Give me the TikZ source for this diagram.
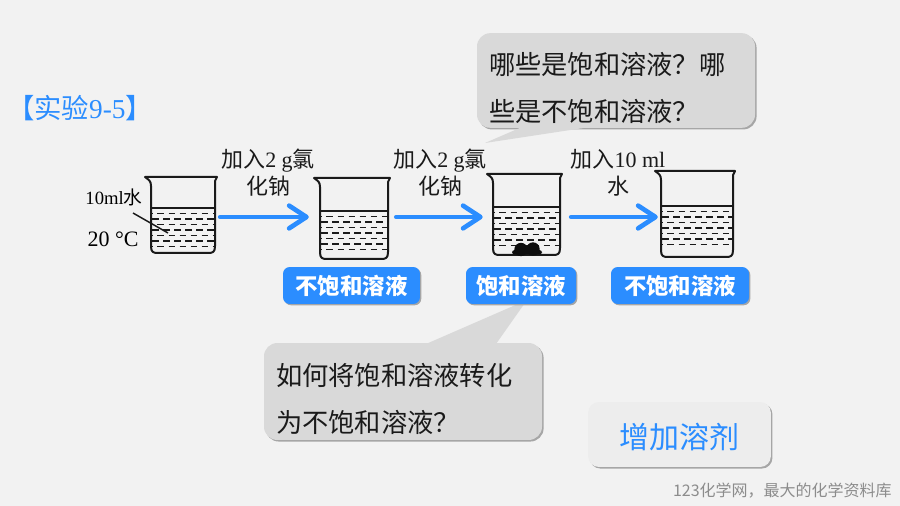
\documentclass[tikz,border=0pt]{standalone}
\usepackage{fontspec}
\setmainfont{Liberation Serif}
\newfontfamily\cjk{Noto Sans CJK SC}
\usepackage{tikz}
\usetikzlibrary{arrows.meta,positioning,calc,fit,shadows}
\definecolor{bgcol}{HTML}{F2F2F2}
\definecolor{bluecol}{HTML}{2B8DFF}
\definecolor{bubblecol}{HTML}{D9D9D9}
\definecolor{answercol}{HTML}{EDEDED}
\definecolor{inkcol}{HTML}{1A1A1A}
\newcommand{\beaker}[6]{
    \coordinate (#1nw) at (#2,#3);
    \coordinate (#1se) at (#4,#5);
    \node[fit=(#1nw)(#1se), inner sep=0pt] (#1) {};
    \draw[glass] (#2-6,#3) -- (#4+2,#3) -- (#4,#3+4) -- (#4,#5-7) .. controls (#4,#5-1) and (#4-2,#5) .. (#4-7,#5)
        -- (#2+7,#5) .. controls (#2+2,#5) and (#2,#5-1) .. (#2,#5-7) -- (#2,#3+9) .. controls (#2,#3+4) and (#2-2,#3+3) .. (#2-6,#3) -- cycle;
    \draw[line width=1pt, inkcol] (#2,#6) -- (#4,#6);
    \begin{scope}
        \clip (#2+1,#6) rectangle (#4-1,#5-1);
        \foreach \row [count=\i] in {1,...,7} {
            \pgfmathsetmacro{\phase}{mod(\i,2)*4.2}
            \draw[line width=1.2pt, inkcol, dash pattern=on 5pt off 3.3pt, dash phase=\phase pt] (#2+1,#6+\row*5.5) -- (#4-1,#6+\row*5.5);
        }
    \end{scope}
}
\begin{document}
\begin{tikzpicture}[
    x=0.75pt, y=-0.75pt,
    glass/.style = {line width=1.5pt, draw=inkcol, line join=round},
    bubble/.style = {rectangle, fill=bubblecol, rounded corners=10pt, minimum width=208.5pt, text width=190.5pt, inner xsep=9pt, inner ysep=0pt, align=left, text=inkcol, font=\cjk\fontsize{19.7}{35.2}\selectfont, execute at begin node={\rule{0pt}{27.5pt}}, drop shadow={shadow xshift=1.2pt, shadow yshift=-1.2pt, fill=black!35, opacity=1}},
    tag/.style = {rectangle, fill=bluecol, rounded corners=5pt, minimum height=27.7pt, text=white, inner sep=0pt, font=\cjk\bfseries\fontsize{16.8}{20}\selectfont, drop shadow={shadow xshift=1pt, shadow yshift=-1pt, fill=black!35, opacity=1}},
    step label/.style = {align=center, text=inkcol, inner sep=0pt, font=\fontsize{16.5}{20.2}\selectfont},
    arrow/.style = {-{Straight Barb[length=13pt, width=17pt, round]}, line width=3.5pt, line cap=round, draw=bluecol}
]
    \fill[bgcol] (0,0) rectangle (900,506);
    \coordinate (level) at (0,217);
    \beaker{beakerA}{151}{177}{215}{253}{208}
    \beaker{beakerB}{320}{178}{388}{259}{211}
    \beaker{beakerC}{493}{174}{560}{255}{207}
    \beaker{beakerD}{661}{171}{733}{257}{206}
    \fill[inkcol!50!black, rounded corners=2pt] (512,254.5) -- (512,250) -- (542,250) -- (542,254.5) -- cycle;
    \fill[inkcol!50!black] (521,249.5) circle (5pt) (533,249) circle (5pt);
    \node[inner sep=0pt, font=\fontsize{14}{16}\selectfont] (water) at (114,197) {10ml{\cjk 水}};
    \node[inner sep=0pt, font=\fontsize{16.5}{19}\selectfont] (temp) at (113,239) {20 °C};
    \coordinate (waterend) at (168,233);
    \draw[line width=1.1pt, inkcol] (133,213) -- (waterend);
    \draw[arrow, shorten <=3.7pt, shorten >=8.2pt] (beakerA.east |- level) -- (beakerB.west |- level);
    \draw[arrow, shorten <=6pt, shorten >=7.5pt] (beakerB.east |- level) -- (beakerC.west |- level);
    \draw[arrow, shorten <=8.2pt, shorten >=2.2pt] (beakerC.east |- level) -- (beakerD.west |- level);
    \node[step label] (saltA) at (268,173) {{\cjk 加入}2 g{\cjk 氯}\\{\cjk 化钠}};
    \node[step label] (saltB) at (440,173) {{\cjk 加入}2 g{\cjk 氯}\\{\cjk 化钠}};
    \node[step label] (addwater) at (618,173) {{\cjk 加入}10 ml\\{\cjk 水}};
    \node[bubble, minimum height=71pt] (question) at (616,80.5) {哪些是饱和溶液^^^^ff1f哪\\些是不饱和溶液^^^^ff1f};
    \fill[bubblecol] (522,127) -- (485,143) -- (590,127) -- cycle;
    \node[bubble, minimum height=72.7pt] (how) at (403,391.5) {如何将饱和溶液转化\\为不饱和溶液^^^^ff1f};
    \fill[bubblecol] (426,344) -- (527,300) -- (496,344) -- cycle;
    \node[tag, minimum width=102.7pt] (tagA) at (351.5,285.5) {不饱和溶液};
    \node[tag, minimum width=82.5pt] (tagB) at (521,285.5) {饱和溶液};
    \node[tag, minimum width=103.5pt] (tagC) at (680,285.5) {不饱和溶液};
    \node[rectangle, fill=answercol, rounded corners=8pt, minimum width=137pt, minimum height=48.7pt, inner sep=0pt, text=bluecol, font=\cjk\fontsize{22.5}{26}\selectfont, text height=23pt, text depth=2pt, drop shadow={shadow xshift=1.2pt, shadow yshift=-1.2pt, fill=black!35, opacity=1}] (answer) at (679.5,434.5) {增加溶剂};
    \node[inner sep=0pt, text=bluecol, font=\fontsize{20.5}{23}\selectfont] (title) at (80,108) {{\cjk 【实验}9-5{\cjk 】}};
    \node[inner sep=0pt, text=black!45, anchor=east, font=\cjk\fontsize{12}{14}\selectfont] (site) at (892,491) {123化学网^^^^ff0c最大的化学资料库};
\end{tikzpicture}
\end{document}
